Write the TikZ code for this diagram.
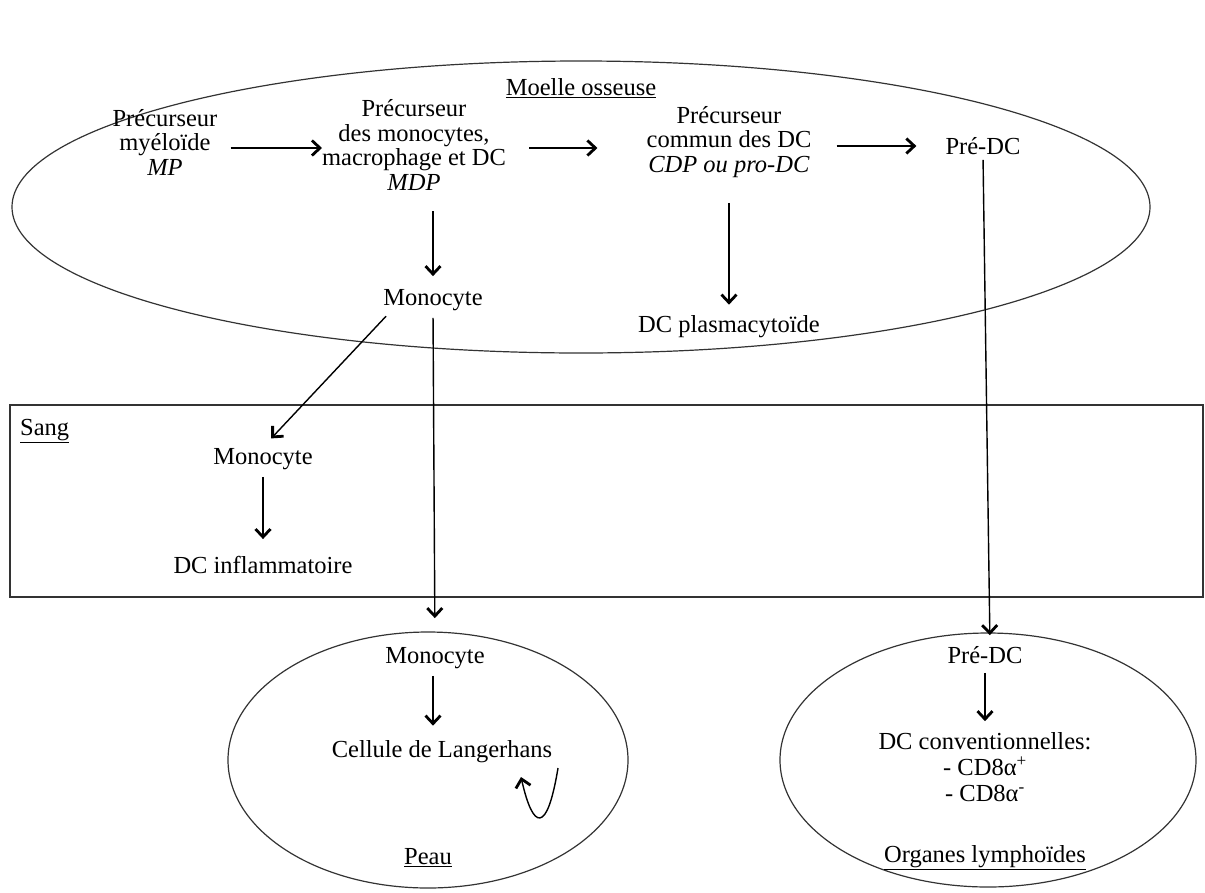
\documentclass[tikz,border=0pt]{standalone}
\usepackage{fontspec}
\setmainfont{Liberation Serif}
\usetikzlibrary{arrows.meta}
\begin{document}
\begin{tikzpicture}[x=1pt,y=-1pt,
  txt/.style={align=center,inner sep=1pt,font=\fontsize{24.5}{24.5}\selectfont},
  arr/.style={line width=1.4pt,-{Straight Barb[length=8pt,width=15pt,line width=2.8pt]}},
  frame/.style={line width=1.2pt,draw=black!80}]
\useasboundingbox (0,0) rectangle (1205,892);
% containers
\draw[frame] (581,207) ellipse [x radius=569, y radius=146];
\draw[frame] (10,405) rectangle (1203,597);
\draw[frame] (428,760) ellipse [x radius=200, y radius=128];
\draw[frame] (988,760) ellipse [x radius=208, y radius=127];
% titles
\node[txt] (moelle) at (581,88) {\underline{Moelle osseuse}};
\node[txt,anchor=west] (sang) at (19,431) {\underline{Sang}};
\node[txt] (peau) at (428,858) {\underline{Peau}};
\node[txt] (org) at (985,858) {\underline{Organes lymphoïdes}};
% bone marrow nodes
\node[txt] (mp) at (165,142) {Précurseur\\myéloïde\\\textit{MP}};
\node[txt] (mdp) at (414,145) {Précurseur\\des monocytes,\\macrophage et DC\\\textit{MDP}};
\node[txt] (cdp) at (729,142) {Précurseur\\commun des DC\\\textit{CDP ou pro-DC}};
\node[txt] (pre) at (983,146) {Pré-DC};
\node[txt] (mono1) at (433,300) {Monocyte};
\node[txt] (pdc) at (729,327) {DC plasmacytoïde};
% blood
\node[txt] (mono2) at (263,459) {Monocyte};
\node[txt] (dcinf) at (263,565) {DC inflammatoire};
% skin
\node[txt] (mono3) at (435,658) {Monocyte};
\node[txt] (lang) at (442,752) {Cellule de Langerhans};
% lymphoid organs
\node[txt,font=\fontsize{24.5}{26}\selectfont] (dcconv) at (985,767) {DC conventionnelles:\\- CD8α\textsuperscript{+}\\- CD8α\textsuperscript{-}};
\node[txt] (pre2) at (985,655) {Pré-DC};
% arrows
\coordinate (a1) at (243,148);
\coordinate (a2) at (322,148);
\draw[arr] (a1 -| mp.east) ++(12,0) -- (a2);
\draw[arr,shorten <=22pt,shorten >=48pt] (a1 -| mdp.east) -- (a1 -| cdp.west);
\draw[arr,shorten <=24pt,shorten >=28pt] (pre.west -| cdp.east) -- (pre.west);
\draw[arr,shorten <=20pt,shorten >=12pt] (mdp.south) ++(19,0) -- (mono1.north);
\draw[arr,shorten <=24pt,shorten >=10pt] (cdp.south) -- (cdp.south |- pdc.north);
\draw[arr,shorten <=4pt,shorten >=10pt] (pre.south) -- ([xshift=5pt]pre2.north);
\draw[arr,shorten <=6pt,shorten >=12pt] ([xshift=8pt]mono1.south west) -- (mono2.north);
\draw[arr,shorten <=6pt,shorten >=28pt] (mono1.south) -- (mono3.north);
\draw[arr,shorten <=6pt,shorten >=16pt] (mono2.south) -- (dcinf.north);
\draw[arr,shorten <=6pt,shorten >=14pt] ([xshift=-2pt]mono3.south) -- ([xshift=-9pt]lang.north);
\draw[arr,shorten <=8pt,shorten >=10pt] (pre2.south) -- (dcconv.north);
% self-renewal loop
\coordinate (ls) at (558,768);
\coordinate (le) at (521,777);
\draw[arr] (ls) .. controls (547,835) and (533,830) .. (le);
\end{tikzpicture}
\end{document}
